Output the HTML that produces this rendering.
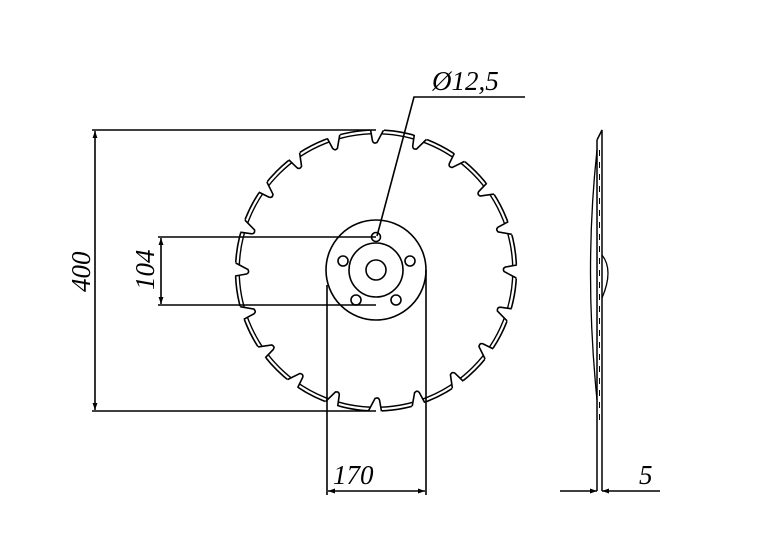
<!DOCTYPE html>
<html><head><style>
html,body{margin:0;padding:0;background:#fff;}
svg{display:block}
text{font-family:"Liberation Serif",serif;font-style:italic;font-size:27px;fill:#000}
</style></head><body>
<svg width="779" height="544" viewBox="0 0 779 544" xmlns="http://www.w3.org/2000/svg" xmlns:xlink="http://www.w3.org/1999/xlink">
<defs>
<marker id="a" viewBox="0 0 10 10" refX="10" refY="5" markerWidth="14" markerHeight="7" markerUnits="userSpaceOnUse" orient="auto-start-reverse"><path d="M0,1.5 L10,5 L0,8.5 Z" fill="#000"/></marker>
<g id="n">
<polygon points="370,124 384,124 384,130 378,143 373.5,143 370,130" fill="#fff" stroke="none"/>
<path d="M370.5,129.6 L372.5,141 Q373.5,143.5 375.5,143 L377,142.5 L383.5,130.2" fill="none" stroke="#000" stroke-width="1.6"/>
</g>
</defs>
<g stroke="#000" fill="none" stroke-width="1.6">
<circle cx="376" cy="270.5" r="140.5" stroke-width="1.6"/>
<circle cx="376" cy="270.5" r="136.8" stroke-width="1.4"/>
</g>
<g>
<use xlink:href="#n" href="#n" transform="rotate(0 376 270.5)"/>
<use xlink:href="#n" href="#n" transform="rotate(18 376 270.5)"/>
<use xlink:href="#n" href="#n" transform="rotate(36 376 270.5)"/>
<use xlink:href="#n" href="#n" transform="rotate(54 376 270.5)"/>
<use xlink:href="#n" href="#n" transform="rotate(72 376 270.5)"/>
<use xlink:href="#n" href="#n" transform="rotate(90 376 270.5)"/>
<use xlink:href="#n" href="#n" transform="rotate(108 376 270.5)"/>
<use xlink:href="#n" href="#n" transform="rotate(126 376 270.5)"/>
<use xlink:href="#n" href="#n" transform="rotate(144 376 270.5)"/>
<use xlink:href="#n" href="#n" transform="rotate(162 376 270.5)"/>
<use xlink:href="#n" href="#n" transform="rotate(180 376 270.5)"/>
<use xlink:href="#n" href="#n" transform="rotate(198 376 270.5)"/>
<use xlink:href="#n" href="#n" transform="rotate(216 376 270.5)"/>
<use xlink:href="#n" href="#n" transform="rotate(234 376 270.5)"/>
<use xlink:href="#n" href="#n" transform="rotate(252 376 270.5)"/>
<use xlink:href="#n" href="#n" transform="rotate(270 376 270.5)"/>
<use xlink:href="#n" href="#n" transform="rotate(288 376 270.5)"/>
<use xlink:href="#n" href="#n" transform="rotate(306 376 270.5)"/>
<use xlink:href="#n" href="#n" transform="rotate(324 376 270.5)"/>
<use xlink:href="#n" href="#n" transform="rotate(342 376 270.5)"/>
</g>
<g stroke="#000" fill="none" stroke-width="1.6">
<line x1="92" y1="130" x2="376" y2="130"/>
<line x1="92" y1="411" x2="376" y2="411"/>
<line x1="95" y1="131" x2="95" y2="410" marker-start="url(#a)" marker-end="url(#a)"/>
<line x1="158" y1="237" x2="376" y2="237"/>
<line x1="158" y1="305" x2="376" y2="305"/>
<line x1="161" y1="238" x2="161" y2="304" marker-start="url(#a)" marker-end="url(#a)"/>
<line x1="327" y1="285" x2="327" y2="495"/>
<line x1="426" y1="270" x2="426" y2="495"/>
<line x1="328" y1="491" x2="425" y2="491" marker-start="url(#a)" marker-end="url(#a)"/>
<polyline points="525,97 414,97 377,236"/>
<circle cx="376" cy="270" r="50"/>
<circle cx="376" cy="270" r="27"/>
<circle cx="376" cy="270" r="10"/>
<circle cx="376" cy="237" r="4.5"/>
<circle cx="343" cy="261" r="5"/>
<circle cx="410" cy="261" r="5"/>
<circle cx="356" cy="300" r="5"/>
<circle cx="396" cy="300" r="5"/>
<path d="M597,140 L602,130 L602,491 M597,140 L597,491" stroke-width="1.5"/>
<path d="M597,150 Q584,270 597,400" stroke-width="1.3"/>
<path d="M602,255 Q614,270 602,298" stroke-width="1.3"/>
<line x1="599.5" y1="150" x2="599.5" y2="420" stroke-width="1" stroke-dasharray="6,6"/>
<line x1="560" y1="491" x2="597" y2="491" marker-end="url(#a)"/>
<line x1="660" y1="491" x2="602" y2="491" marker-end="url(#a)"/>
</g>
<text x="432" y="90">Ø12,5</text>
<text x="333" y="484">170</text>
<text x="639" y="484">5</text>
<text transform="translate(90,292) rotate(-90)">400</text>
<text transform="translate(154,290) rotate(-90)">104</text>
</svg>
</body></html>
